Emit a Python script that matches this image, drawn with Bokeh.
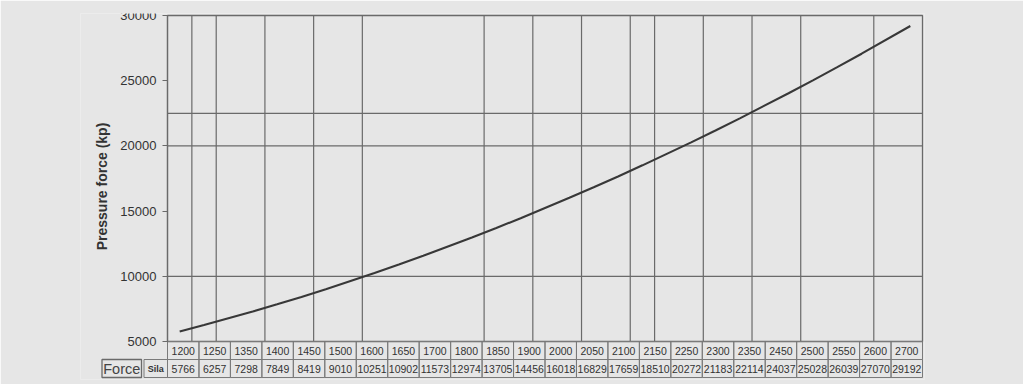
import math
from bokeh.plotting import figure
from bokeh.models import Range1d, FixedTicker, ColumnDataSource, Label
from bokeh.core.properties import value
from bokeh.embed import file_html
from bokeh.resources import INLINE

# ---------------- data ----------------
rpm_labels = ["1200", "1250", "1350", "1400", "1450", "1500", "1600", "1650",
              "1700", "1800", "1850", "1900", "2000", "2050", "2100", "2150",
              "2250", "2300", "2350", "2450", "2500", "2550", "2600", "2700"]
force_values = [5766, 6257, 7298, 7849, 8419, 9010, 10251, 10902,
                11573, 12974, 13705, 14456, 16018, 16829, 17659, 18510,
                20272, 21183, 22114, 24037, 25028, 26039, 27070, 29192]
y_ticks = [5000, 10000, 15000, 20000, 25000, 30000]
vgrid_rpm = [1225, 1275, 1375, 1475, 1575, 1825, 1925, 2025, 2125, 2175,
             2275, 2375, 2475, 2625]
hgrid_kp = [10000, 20000, 22500]
y_title = "Pressure force (kp)"
row_head_big = "Force"
row_head_small = "Sila"

# ---------------- layout (page pixels) ----------------
X0, X1 = 1175, 2725
Y0, Y1 = 5000, 30000
FIG_W, FIG_H = 1023, 384
FRAME_L, FRAME_R, FRAME_T, FRAME_B = 80, 924, 13, 379
CH_L, CH_R, CH_T, CH_B = 167, 922, 15, 341
TB_T, TB_B = 341, 377
N = len(rpm_labels)

kx = (CH_R - CH_L) / (X1 - X0)
ky = (CH_B - CH_T) / (Y1 - Y0)
x_rng = Range1d(X0 - (CH_L - FRAME_L) / kx, X1 + (FRAME_R - CH_R) / kx)
y_rng = Range1d(Y0 - (FRAME_B - CH_B) / ky, Y1 + (CH_T - FRAME_T) / ky)

colpx = (CH_R - CH_L) / N
rowpx = (TB_B - TB_T) / 2
tx_rng = Range1d(-(CH_L - FRAME_L) / colpx, N + (FRAME_R - CH_R) / colpx)
ty_rng = Range1d(-(FRAME_B - TB_B) / rowpx, 2 + (TB_T - FRAME_T) / rowpx)

def px_to_col(px):
    return (px - CH_L) / colpx

def py_to_val(py):
    return Y0 + (CH_B - py) / ky

BG = "#e6e6e6"
LINE = "#6a6a6a"
TXT = "#333333"
FONT = value("Liberation Sans")

p = figure(width=FIG_W, height=FIG_H, output_backend="svg", toolbar_location=None,
           x_range=x_rng, y_range=y_rng, x_axis_location=None,
           min_border_left=FRAME_L, min_border_right=FIG_W - FRAME_R,
           min_border_top=FRAME_T, min_border_bottom=FIG_H - FRAME_B,
           background_fill_color=BG, border_fill_color=BG, outline_line_color=None)
p.extra_x_ranges = {"tab": tx_rng}
p.extra_y_ranges = {"tab": ty_rng}
p.grid.visible = False

# y axis at chart left edge
yax = p.yaxis[0]
yax.fixed_location = X0
yax.bounds = (Y0, Y1)
yax.ticker = FixedTicker(ticks=y_ticks)
yax.minor_tick_line_color = None
yax.major_tick_in = 0
yax.major_tick_out = 5
yax.major_tick_line_color = LINE
yax.axis_line_color = LINE
yax.axis_line_width = 1.2
yax.major_label_standoff = 6
yax.major_label_text_font = "Liberation Sans"
yax.major_label_text_font_size = "13px"
yax.major_label_text_color = TXT

# axis title
p.add_layout(Label(x=px_to_col(101), y=py_to_val(186), x_range_name="tab",
                   text=y_title, angle=math.pi / 2, text_align="center",
                   text_baseline="middle", text_font="Liberation Sans",
                   text_font_size="14px", text_font_style="bold", text_color=TXT))

# grid lines and chart box
p.segment(x0=vgrid_rpm, y0=[Y0] * len(vgrid_rpm), x1=vgrid_rpm, y1=[Y1] * len(vgrid_rpm),
          line_color=LINE, line_width=1.2)
p.segment(x0=[X0] * len(hgrid_kp), y0=hgrid_kp, x1=[X1] * len(hgrid_kp), y1=hgrid_kp,
          line_color=LINE, line_width=1.2)
p.quad(left=[X0], right=[X1], bottom=[Y0], top=[Y1], fill_color=None,
       line_color=LINE, line_width=1.3)

# curve
rpm = [int(s) for s in rpm_labels]
p.line(rpm, force_values, line_color="#383838", line_width=2.1)

# data table
idx = list(range(N))
tab = ColumnDataSource(dict(l=idx, r=[i + 1 for i in idx], xc=[i + 0.5 for i in idx],
                            rpm=rpm_labels, val=[str(v) for v in force_values]))
p.quad(left="l", right="r", bottom=1, top=2, source=tab, fill_color=None,
       line_color="#7a7a7a", line_width=1, x_range_name="tab", y_range_name="tab")
p.quad(left="l", right="r", bottom=0, top=1, source=tab, fill_color=None,
       line_color="#7a7a7a", line_width=1, x_range_name="tab", y_range_name="tab")
p.text(x="xc", y=1.5, text="rpm", source=tab, text_align="center", text_baseline="middle",
       text_font=FONT, text_font_size="10.5px", text_color=TXT,
       x_range_name="tab", y_range_name="tab")
p.text(x="xc", y=0.5, text="val", source=tab, text_align="center", text_baseline="middle",
       text_font=FONT, text_font_size="10.5px", text_color=TXT,
       x_range_name="tab", y_range_name="tab")

# row headers
sila_l, sila_r = px_to_col(143.5), 0
force_l, force_r = px_to_col(101.5), px_to_col(141)
p.quad(left=[sila_l], right=[sila_r], bottom=[0], top=[1], fill_color=None,
       line_color="#7a7a7a", line_width=1, x_range_name="tab", y_range_name="tab")
p.quad(left=[force_l], right=[force_r], bottom=[0], top=[1], fill_color=None,
       line_color="#6a6a6a", line_width=1.3, x_range_name="tab", y_range_name="tab")
p.text(x=[(sila_l + sila_r) / 2], y=[0.5], text=[row_head_small], text_align="center",
       text_baseline="middle", text_font=FONT, text_font_size="9px",
       text_font_style="bold", text_color=TXT, x_range_name="tab", y_range_name="tab")
p.text(x=[(force_l + force_r) / 2], y=[0.45], text=[row_head_big], text_align="center",
       text_baseline="middle", text_font=FONT, text_font_size="14.5px",
       text_color="#444444", x_range_name="tab", y_range_name="tab")

html = file_html(p, INLINE)
html = html.replace("<body>", '<body style="background:%s;margin:0">' % BG, 1)
open("out.html", "w").write(html)
